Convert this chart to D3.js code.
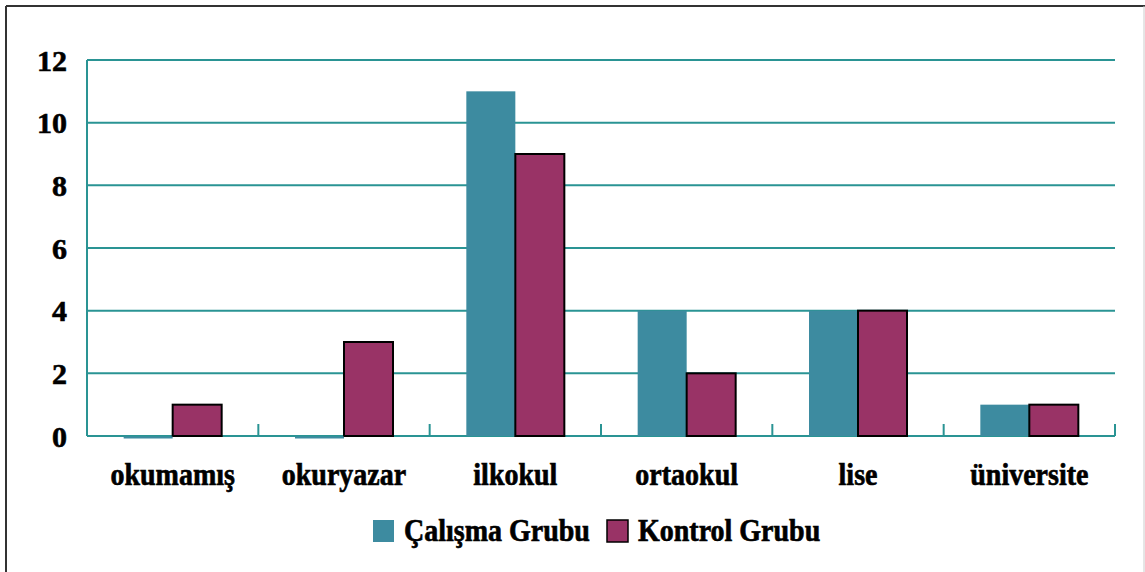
<!DOCTYPE html>
<html><head><meta charset="utf-8">
<script src="https://cdn.jsdelivr.net/npm/d3@7"></script>
<style>body{margin:0;background:#fff}svg{display:block}text{font-family:"Liberation Serif","Times New Roman",serif;font-weight:bold;fill:#000;stroke:#000;stroke-width:0.6px}</style>
</head><body>
<svg id="c" width="1145" height="572"></svg>
<script>
const categories = ["okumamış","okuryazar","ilkokul","ortaokul","lise","üniversite"];
const seriesNames = ["Çalışma Grubu","Kontrol Grubu"];
const calisma = [0,0,11,4,4,1];
const kontrol = [1,3,9,2,4,1];
const yTicks = [0,2,4,6,8,10,12];
const colors = ["#3d8ba0","#993366"];

const svg = d3.select("#c");
const W=1145,H=572;
const m={l:87,r:30,t:60,b:136};
const x0=d3.scaleBand().domain(categories).range([m.l,W-m.r]).paddingInner(0).paddingOuter(0);
const bw=49;
const x1=d3.scaleBand().domain(seriesNames).range([0,bw*2]);
const y=d3.scaleLinear().domain([0,12]).range([H-m.b,m.t]);

// border
svg.append("line").attr("x1",6).attr("x2",W).attr("y1",6).attr("y2",6).attr("stroke","#333").attr("stroke-width",2);
svg.append("line").attr("x1",6).attr("x2",6).attr("y1",6).attr("y2",H).attr("stroke","#333").attr("stroke-width",2);
svg.append("line").attr("x1",W-1).attr("x2",W-1).attr("y1",6).attr("y2",H).attr("stroke","#ccc").attr("stroke-width",1);

const grid="#2a9494";
svg.append("g").selectAll("line").data(yTicks).join("line")
 .attr("x1",m.l).attr("x2",W-m.r).attr("y1",d=>y(d)).attr("y2",d=>y(d))
 .attr("stroke",grid).attr("stroke-width",2);
svg.append("line").attr("x1",m.l).attr("x2",m.l).attr("y1",y(12)).attr("y2",y(0)).attr("stroke",grid).attr("stroke-width",2);
const tickXs = categories.map(c=>x0(c)).concat([x0(categories[categories.length-1])+x0.bandwidth()]);
svg.append("g").selectAll("line").data(tickXs).join("line")
 .attr("x1",d=>d).attr("x2",d=>d).attr("y1",y(0)-12).attr("y2",y(0))
 .attr("stroke",grid).attr("stroke-width",2);

svg.append("g").selectAll("text").data(yTicks).join("text")
 .attr("x",67).attr("y",d=>y(d)).attr("dy","0.35em").attr("text-anchor","end")
 .attr("font-size",30).text(d=>d);

const data = categories.map((c,i)=>({c,vals:[calisma[i],kontrol[i]]}));
const g=svg.append("g").selectAll("g").data(data).join("g")
 .attr("transform",d=>`translate(${x0(d.c)+x0.bandwidth()/2-bw},0)`);
g.selectAll("rect").data(d=>d.vals.map((v,j)=>({v,j}))).join("rect")
 .attr("x",d=>x1(seriesNames[d.j])).attr("width",bw)
 .attr("y",d=>y(d.v)).attr("height",d=>Math.max(y(0)-y(d.v),0))
 .attr("fill",d=>colors[d.j])
 .attr("stroke",d=>d.j===1?"#000":"none").attr("stroke-width",2);
g.selectAll("line.z").data(d=>d.vals.map((v,j)=>({v,j})).filter(e=>e.v===0)).join("line")
 .attr("x1",d=>x1(seriesNames[d.j])).attr("x2",d=>x1(seriesNames[d.j])+bw)
 .attr("y1",y(0)+1.5).attr("y2",y(0)+1.5).attr("stroke",colors[0]).attr("stroke-width",2);

svg.append("g").selectAll("text").data(categories).join("text")
 .attr("transform",c=>`translate(${x0(c)+x0.bandwidth()/2},485) scale(1.0,1.1)`)
 .attr("text-anchor","middle").attr("font-size",28).text(c=>c);

const lg=svg.append("g");
const items=[{x:373,n:seriesNames[0],c:colors[0],s:"none"},{x:607,n:seriesNames[1],c:colors[1],s:"#000"}];
items.forEach(it=>{
  lg.append("rect").attr("x",it.x).attr("y",520).attr("width",21).attr("height",22).attr("fill",it.c).attr("stroke",it.s).attr("stroke-width",1.5);
  lg.append("text").attr("transform",`translate(${it.x+31},541) scale(1.0,1.1)`).attr("font-size",28).text(it.n);
});
</script>
</body></html>
